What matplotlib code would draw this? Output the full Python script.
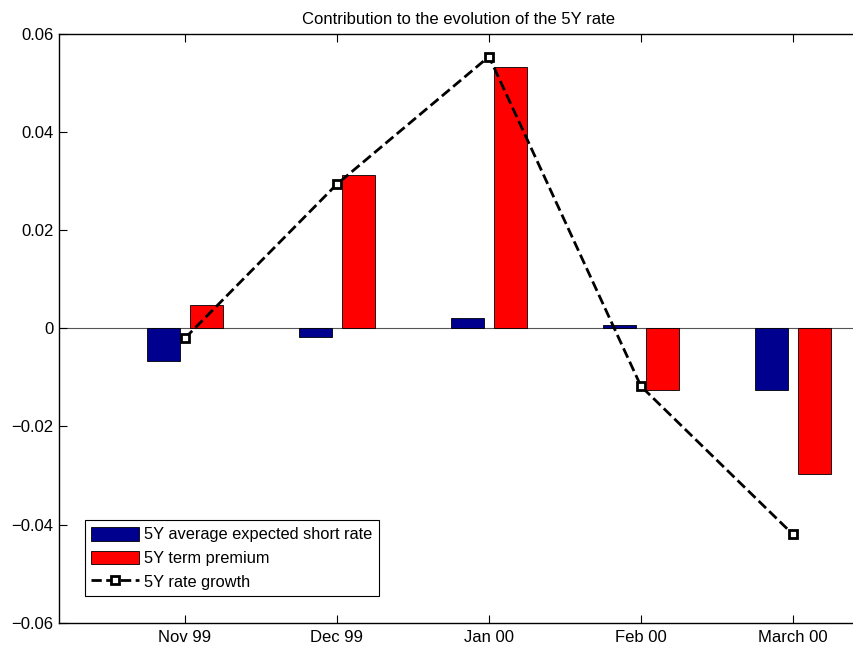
import matplotlib
matplotlib.use("Agg")
import matplotlib.pyplot as plt
import numpy as np

plt.rcParams['font.family'] = ['Liberation Sans', 'DejaVu Sans']

months = ['Nov 99', 'Dec 99', 'Jan 00', 'Feb 00', 'March 00']
expected_short = [-0.0067, -0.0018, 0.0021, 0.0007, -0.0126]
term_premium = [0.0047, 0.0312, 0.0532, -0.0126, -0.0296]
rate_growth = [-0.0020, 0.0294, 0.0554, -0.0118, -0.0420]

x = np.arange(1, len(months) + 1)
width = 0.22

fig = plt.figure(figsize=(8.54, 6.49), dpi=100)
# right edge of the box falls just outside the picture, like the reference
ax = fig.add_axes([59 / 854, 1 - 622.7 / 649, (858 - 59) / 854, (622.7 - 34) / 649])

b1 = ax.bar(x - 0.14, expected_short, width, color='#00008F', edgecolor='black',
            linewidth=0.6, zorder=2)
b2 = ax.bar(x + 0.14, term_premium, width, color='#FF0000', edgecolor='black',
            linewidth=0.6, zorder=2)
ax.axhline(0, color='#555555', linewidth=0.8, zorder=1)
ln, = ax.plot(x, rate_growth, '--', color='black', linewidth=2, marker='s',
              markersize=6, markerfacecolor='white', markeredgecolor='black',
              markeredgewidth=2, zorder=3)

ax.set_xlim(0.171, 5.428)
ax.set_ylim(-0.06, 0.06)
ax.set_xticks(x)
ax.set_xticklabels(months)
ax.set_yticks(np.arange(-0.06, 0.061, 0.02))
ax.set_yticklabels(['\u22120.06', '\u22120.04', '\u22120.02', '0', '0.02', '0.04', '0.06'])
ax.tick_params(direction='in', top=True, right=False, length=5.5, labelsize=12)
ax.tick_params(axis='y', pad=4)
ax.tick_params(axis='x', pad=5)
for s in ax.spines.values():
    s.set_linewidth(1.0)

ax.set_title('Contribution to the evolution of the 5Y rate', fontsize=12, pad=7)

leg = ax.legend([b1, b2, ln],
                ['5Y average expected short rate', '5Y term premium', '5Y rate growth'],
                loc='lower left', bbox_to_anchor=(0.032, 0.045), fontsize=11.8,
                frameon=True, fancybox=False, edgecolor='black', framealpha=1,
                handlelength=2.95, handleheight=0.9, handletextpad=0.3,
                borderpad=0.4, labelspacing=0.5, borderaxespad=0)
leg.get_frame().set_linewidth(0.8)

fig.savefig('out.png', dpi=100)
